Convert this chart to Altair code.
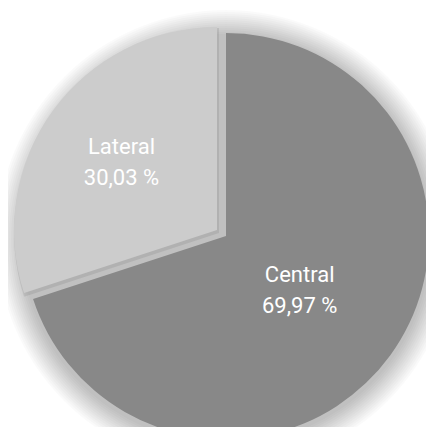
import math
import altair as alt
import pandas as pd

categories = ["Central", "Lateral"]
values = [69.97, 30.03]
labels = ["69,97 %", "30,03 %"]
colors = ["#888888", "#cccccc"]

df = pd.DataFrame({"cat": categories, "val": values, "lab": labels})

W, H = 418, 419
CX, CY = 218, 228
R = 203

theta_scale = alt.Scale(domain=[0, 100], range=[0, 2 * math.pi])
color_scale = alt.Scale(domain=categories, range=colors)

base = alt.Chart(df).transform_window(
    end="sum(val)", sort=[alt.SortField("cat")], frame=[None, 0]
).transform_calculate(
    start="datum.end - datum.val",
    mid="datum.end - datum.val / 2",
    txt="datum.cat + '\\n' + datum.lab",
)

# soft shadow rings
shadow_layers = []
for extra in range(26, 0, -2):
    shadow_layers.append(
        alt.Chart(pd.DataFrame({"v": [1]})).mark_arc(color="#000000", opacity=0.018).encode(
            theta=alt.value(0), theta2=alt.value(2 * math.pi),
            radius=alt.value(R + extra), x=alt.value(CX), y=alt.value(CY + 3),
        )
    )

central = base.transform_filter(alt.datum.cat == "Central").mark_arc().encode(
    theta=alt.Theta("start:Q", scale=theta_scale),
    theta2="end:Q",
    color=alt.Color("cat:N", scale=color_scale, legend=None),
    radius=alt.value(R),
    x=alt.value(CX), y=alt.value(CY),
)

lat_shadow = base.transform_filter(alt.datum.cat == "Lateral").mark_arc(
    color="#000000", opacity=0.08
).encode(
    theta=alt.Theta("start:Q", scale=theta_scale),
    theta2="end:Q",
    radius=alt.value(R + 2),
    x=alt.value(CX - 7), y=alt.value(CY - 3),
)

lateral = base.transform_filter(alt.datum.cat == "Lateral").mark_arc().encode(
    theta=alt.Theta("start:Q", scale=theta_scale),
    theta2="end:Q",
    color=alt.Color("cat:N", scale=color_scale, legend=None),
    radius=alt.value(R),
    x=alt.value(CX - 9), y=alt.value(CY - 6),
)

text_c = base.transform_filter(alt.datum.cat == "Central").mark_text(
    color="white", fontSize=22, font="Roboto", lineHeight=31, baseline="middle",
    lineBreak="\n", dy=-14
).encode(
    theta=alt.Theta("mid:Q", scale=theta_scale),
    radius=alt.value(91),
    text="txt:N",
    x=alt.value(CX), y=alt.value(CY),
)

text_l = base.transform_filter(alt.datum.cat == "Lateral").mark_text(
    color="white", fontSize=22, font="Roboto", lineHeight=31, baseline="middle",
    lineBreak="\n", dy=-14
).encode(
    theta=alt.Theta("mid:Q", scale=theta_scale),
    radius=alt.value(118),
    text="txt:N",
    x=alt.value(CX - 9), y=alt.value(CY - 6),
)

chart = alt.layer(*shadow_layers, central, lat_shadow, lateral, text_c, text_l).properties(
    width=W, height=H, padding=0, autosize="none", background="white"
).configure_view(stroke=None)

chart.save("out.html", embed_options={"renderer": "svg", "actions": False})
